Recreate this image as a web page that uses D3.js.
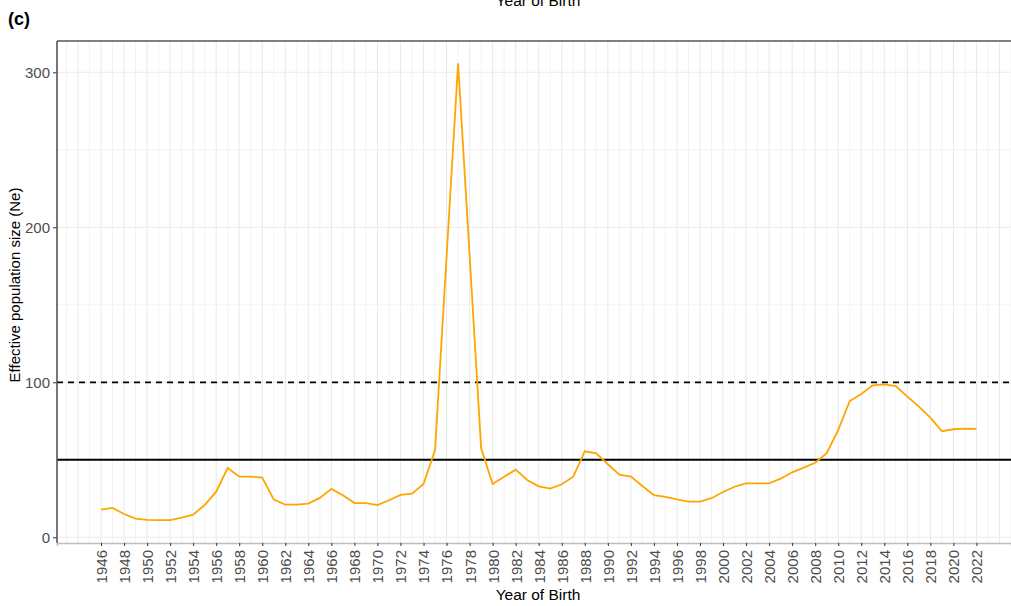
<!DOCTYPE html>
<html>
<head>
<meta charset="utf-8">
<script src="https://cdn.jsdelivr.net/npm/d3@7"></script>
<style>
  body { margin: 0; background: #fff; }
  svg { display: block; font-family: "Liberation Sans", Arial, sans-serif; }
</style>
</head>
<body>
<div id="chart"></div>
<script>
// Ne per year of birth
var years = [1946,1947,1948,1949,1950,1951,1952,1953,1954,1955,1956,1957,1958,1959,1960,
  1961,1962,1963,1964,1965,1966,1967,1968,1969,1970,1971,1972,1973,1974,1975,1976,1977,
  1978,1979,1980,1981,1982,1983,1984,1985,1986,1987,1988,1989,1990,1991,1992,1993,1994,
  1995,1996,1997,1998,1999,2000,2001,2002,2003,2004,2005,2006,2007,2008,2009,2010,2011,
  2012,2013,2014,2015,2016,2017,2018,2019,2020,2021,2022];
var ne = [17.8,18.9,15,12,11.2,11,11,12.7,14.6,20.8,29.4,44.7,39.1,39.1,38.5,
  24.3,21,21,21.7,25.4,31.2,27.1,22.1,22,20.8,23.9,27.3,28.1,34.4,56.3,181,305.8,
  182,57.4,34.4,39.1,43.6,37,32.9,31.4,34.2,39.1,55.5,54.2,47.1,40.4,39.1,33.1,27.1,
  26,24.5,23,23,25.2,29.2,32.6,34.8,34.8,34.8,37.8,41.9,44.9,48.1,54.2,69.2,87.9,
  92.5,98,98.7,97.6,90.7,84.3,77.2,68.4,69.7,70.1,69.9];
var yTicks = [0, 100, 200, 300];
var yMinor = [50, 150, 250];
var xTickYears = d3.range(1946, 2023, 2);
var gridYears = d3.range(1943, 2026);
var refSolid = 50;
var refDashed = 100;

drawChart();

function drawChart() {
  var width = 1011, height = 606;
  var pLeft = 57, pTop = 41, pBottom = 543, pRight = 1011;

  var svg = d3.select("#chart").append("svg")
    .attr("width", width)
    .attr("height", height);

  var x = d3.scaleLinear().domain([1942.18, 2025.0]).range([pLeft, pRight]);
  var y = d3.scaleLinear().domain([-3.7, 320.2]).range([pBottom, pTop]);

  // grid
  var grid = svg.append("g");
  grid.selectAll("line.vmin")
    .data(gridYears.filter(function (d) { return d % 2 != 0; }))
    .enter().append("line")
    .attr("x1", function (d) { return x(d); }).attr("x2", function (d) { return x(d); })
    .attr("y1", pTop).attr("y2", pBottom)
    .attr("stroke", "#f3f3f3").attr("stroke-width", 1);
  grid.selectAll("line.vmaj")
    .data(gridYears.filter(function (d) { return d % 2 == 0; }))
    .enter().append("line")
    .attr("x1", function (d) { return x(d); }).attr("x2", function (d) { return x(d); })
    .attr("y1", pTop).attr("y2", pBottom)
    .attr("stroke", "#ebebeb").attr("stroke-width", 1.1);
  grid.selectAll("line.hmin")
    .data(yMinor)
    .enter().append("line")
    .attr("x1", pLeft).attr("x2", pRight)
    .attr("y1", function (d) { return y(d); }).attr("y2", function (d) { return y(d); })
    .attr("stroke", "#f3f3f3").attr("stroke-width", 1);
  grid.selectAll("line.hmaj")
    .data(yTicks)
    .enter().append("line")
    .attr("x1", pLeft).attr("x2", pRight)
    .attr("y1", function (d) { return y(d); }).attr("y2", function (d) { return y(d); })
    .attr("stroke", "#ebebeb").attr("stroke-width", 1.1);

  // reference lines
  svg.append("line")
    .attr("x1", pLeft).attr("x2", pRight)
    .attr("y1", y(refSolid)).attr("y2", y(refSolid))
    .attr("stroke", "#000").attr("stroke-width", 1.8);
  svg.append("line")
    .attr("x1", pLeft).attr("x2", pRight)
    .attr("y1", y(refDashed)).attr("y2", y(refDashed))
    .attr("stroke", "#000").attr("stroke-width", 1.8)
    .attr("stroke-dasharray", "6,5");

  // Ne line
  var line = d3.line()
    .x(function (d, i) { return x(years[i]); })
    .y(function (d) { return y(d); });
  svg.append("path")
    .datum(ne)
    .attr("d", line)
    .attr("fill", "none")
    .attr("stroke", "#ffa500")
    .attr("stroke-width", 1.8);

  // axes
  var xAxis = d3.axisBottom(x).tickValues(xTickYears).tickSize(3).tickFormat(d3.format("d"));
  var gx = svg.append("g").attr("transform", "translate(0," + pBottom + ")").call(xAxis);
  gx.select(".domain").attr("stroke", "#bdbdbd").attr("stroke-width", 1.5);
  gx.selectAll(".tick line").attr("stroke", "#333");
  gx.selectAll(".tick text")
    .attr("fill", "#4d4d4d")
    .style("font-size", "15px")
    .attr("transform", "rotate(-90)")
    .attr("text-anchor", "end")
    .attr("x", -7)
    .attr("y", 0)
    .attr("dy", "0.36em");

  var yAxis = d3.axisLeft(y).tickValues(yTicks).tickSize(4);
  var gy = svg.append("g").attr("transform", "translate(" + pLeft + ",0)").call(yAxis);
  gy.select(".domain").remove();
  gy.selectAll(".tick line").attr("stroke", "#333");
  gy.selectAll(".tick text")
    .attr("fill", "#4d4d4d")
    .style("font-size", "15px")
    .attr("x", -7);

  // panel border (left and top)
  svg.append("line").attr("x1", pLeft).attr("x2", pLeft).attr("y1", pTop).attr("y2", pBottom)
    .attr("stroke", "#555").attr("stroke-width", 1.6);
  svg.append("line").attr("x1", pLeft).attr("x2", pRight).attr("y1", pTop).attr("y2", pTop)
    .attr("stroke", "#555").attr("stroke-width", 1.6);

  // titles
  svg.append("text").attr("x", 8).attr("y", 25)
    .style("font-size", "18px").style("font-weight", "bold").text("(c)");
  svg.append("text").attr("x", 538).attr("y", 6).attr("text-anchor", "middle")
    .style("font-size", "15.5px").text("Year of Birth");
  svg.append("text").attr("x", 538).attr("y", 600).attr("text-anchor", "middle")
    .style("font-size", "15.5px").text("Year of Birth");
  svg.append("text")
    .attr("transform", "translate(20,285) rotate(-90)")
    .attr("text-anchor", "middle")
    .style("font-size", "15px")
    .text("Effective population size (Ne)");
}
</script>
</body>
</html>
